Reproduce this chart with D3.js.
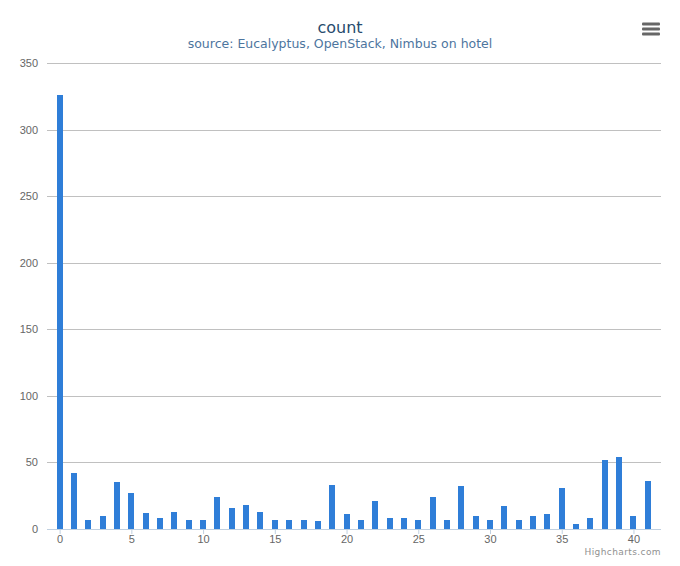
<!DOCTYPE html>
<html>
<head>
<meta charset="utf-8">
<script src="https://cdn.jsdelivr.net/npm/d3@7"></script>
<style>
  body { margin: 0; background: #fff; }
  svg { font-family: "DejaVu Sans", Verdana, Arial, sans-serif; display: block; }
</style>
</head>
<body>
<div id="chart"></div>
<script>
// values
const categories = d3.range(0, 42);
const counts = [
  326, 42, 7, 10, 35, 27, 12, 8, 13, 7,
  7, 24, 16, 18, 13, 7, 7, 7, 6, 33,
  11, 7, 21, 8, 8, 7, 24, 7, 32, 10,
  7, 17, 7, 10, 11, 31, 4, 8, 52, 54,
  10, 36
];
const yTicks = [0, 50, 100, 150, 200, 250, 300, 350];
const xTicks = [0, 5, 10, 15, 20, 25, 30, 35, 40];

const width = 680;
const height = 566;
const plot = { left: 47, right: 661, top: 63, bottom: 529 };

const svg = d3.select('#chart').append('svg')
  .attr('width', width)
  .attr('height', height);

const x = d3.scaleLinear()
  .domain([-0.88, 41.92])
  .range([plot.left, plot.right]);

const y = d3.scaleLinear()
  .domain([0, 350])
  .range([plot.bottom, plot.top]);

// title + subtitle
svg.append('text')
  .attr('x', width / 2)
  .attr('y', 33)
  .attr('text-anchor', 'middle')
  .style('font-size', '16px')
  .style('fill', '#274b6d')
  .text('count');

svg.append('text')
  .attr('x', width / 2)
  .attr('y', 48)
  .attr('text-anchor', 'middle')
  .style('font-size', '12.5px')
  .style('fill', '#4d759e')
  .text('source: Eucalyptus, OpenStack, Nimbus on hotel');

// y grid + labels
const yAxis = d3.axisLeft(y)
  .tickValues(yTicks)
  .tickSize(-(plot.right - plot.left))
  .tickPadding(9);

const yG = svg.append('g')
  .attr('transform', `translate(${plot.left},0)`)
  .call(yAxis);
yG.select('.domain').remove();
yG.selectAll('.tick line')
  .attr('stroke', '#c0c0c0')
  .attr('shape-rendering', 'crispEdges');
yG.selectAll('.tick text')
  .attr('fill', '#666')
  .style('font-size', '11px')
  .attr('font-family', null);

// bars
const barWidth = 6;
svg.append('g')
  .selectAll('rect')
  .data(counts)
  .join('rect')
    .attr('x', (d, i) => Math.round(x(categories[i]) - barWidth / 2))
    .attr('y', d => Math.round(y(d)))
    .attr('width', barWidth)
    .attr('height', d => plot.bottom - Math.round(y(d)))
    .attr('fill', '#2f7ed8');

// x axis
const xAxis = d3.axisBottom(x)
  .tickValues(xTicks)
  .tickSize(5)
  .tickPadding(1);

const xG = svg.append('g')
  .attr('transform', `translate(0,${plot.bottom})`)
  .call(xAxis);
xG.select('.domain')
  .attr('d', `M${plot.left},0.5H${plot.right}`)
  .attr('stroke', '#c0d0e0');
xG.selectAll('.tick line')
  .attr('stroke', '#c0d0e0');
xG.selectAll('.tick text')
  .attr('fill', '#666')
  .style('font-size', '11px')
  .attr('font-family', null);

// export menu icon
svg.append('g')
  .selectAll('rect')
  .data([24, 29, 34])
  .join('rect')
    .attr('x', 642)
    .attr('y', d => d - 1.5)
    .attr('width', 18)
    .attr('height', 3)
    .attr('rx', 1)
    .attr('fill', '#666');

// credits
svg.append('text')
  .attr('x', 661)
  .attr('y', 555)
  .attr('text-anchor', 'end')
  .style('font-size', '9px')
  .style('letter-spacing', '0.4px')
  .style('fill', '#909090')
  .text('Highcharts.com');
</script>
</body>
</html>
